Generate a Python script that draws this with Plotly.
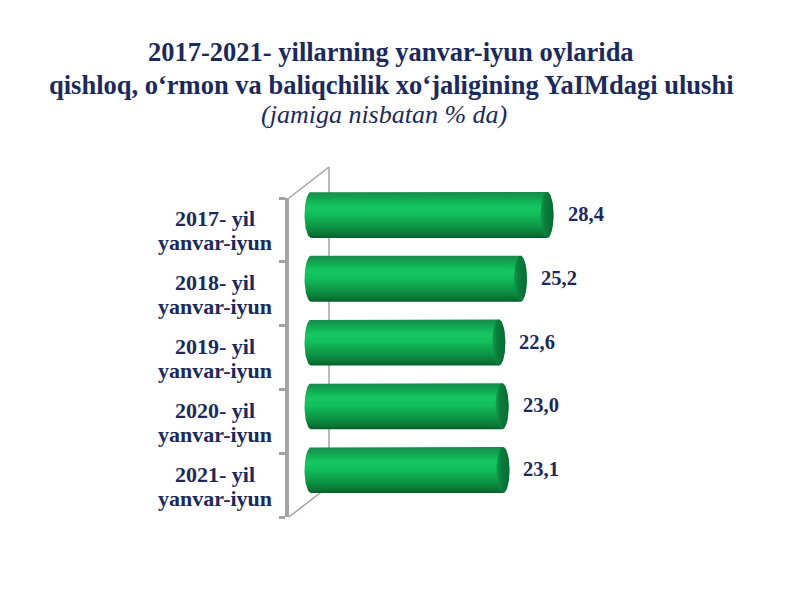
import numpy as np
import plotly.graph_objects as go

# ---- data -------------------------------------------------------------
years = ["2017- yil", "2018- yil", "2019- yil", "2020- yil", "2021- yil"]
period = "yanvar-iyun"
values = [28.4, 25.2, 22.6, 23.0, 23.1]
value_labels = ["28,4", "25,2", "22,6", "23,0", "23,1"]

title_lines = [
    "2017-2021- yillarning yanvar-iyun oylarida",
    "qishloq, o‘rmon va baliqchilik xo‘jaligining YaIMdagi ulushi",
]
subtitle = "(jamiga nisbatan % da)"

# ---- layout geometry (pixels) -----------------------------------------
W, H = 800, 600
PX_PER_UNIT = 8.31          # horizontal scale of the value axis
X_MAX = 34
X_PAD = 2                   # room left of zero for the rounded base
FRONT_LEFT, FRONT_TOP, FRONT_BOTTOM = 289, 198, 517
BAR_DX, BAR_DY = 22, 15     # bars sit half way into the 3-D depth
WALL_DX, WALL_DY = 40, 31   # back wall offset
CAP_RX_PX = 6.5             # half width of the cylinder end ellipse
BAR_H_PX = 46

NAVY = "#1b2a5c"
AXIS_GREY = "#a3a3a3"
FONT = "Liberation Serif"

n = len(years)
band_px = (FRONT_BOTTOM - FRONT_TOP) / n
rx = CAP_RX_PX / PX_PER_UNIT
ry = (BAR_H_PX / 2) / band_px
centers = [n - 0.5 - i for i in range(n)]


def fx(p):
    return p / W


def fy(p):
    return 1 - p / H


body_scale = [
    [0.00, "#075c2b"],
    [0.08, "#0a7636"],
    [0.28, "#0d9a48"],
    [0.52, "#12bf5c"],
    [0.68, "#14c761"],
    [0.85, "#10a852"],
    [1.00, "#178a4b"],
]
cap_scale = [
    [0.00, "#149a4c"],
    [0.35, "#0b7e3c"],
    [1.00, "#086a33"],
]

fig = go.Figure()

t_right = np.linspace(-np.pi / 2, np.pi / 2, 48)
t_left = np.linspace(np.pi / 2, 3 * np.pi / 2, 48)
t_full = np.linspace(0, 2 * np.pi, 96)

for v, c in zip(values, centers):
    # cylinder body: rounded far end + straight sides + rounded base
    bx = np.concatenate([v + rx * np.cos(t_right), rx * np.cos(t_left)])
    by = np.concatenate([c + ry * np.sin(t_right), c + ry * np.sin(t_left)])
    fig.add_trace(go.Scatter(
        x=bx, y=by, xaxis="x2", yaxis="y2", mode="lines",
        line=dict(width=0), fill="toself",
        fillgradient=dict(type="vertical", colorscale=body_scale),
        hoverinfo="skip", showlegend=False,
    ))
    # end cap of the cylinder
    fig.add_trace(go.Scatter(
        x=v + rx * np.cos(t_full), y=c + ry * np.sin(t_full),
        xaxis="x2", yaxis="y2", mode="lines",
        line=dict(width=0), fill="toself",
        fillgradient=dict(type="horizontal", colorscale=cap_scale),
        hoverinfo="skip", showlegend=False,
    ))

# invisible trace so the front axes get drawn
fig.add_trace(go.Scatter(x=[0], y=[0], mode="markers", marker=dict(opacity=0),
                         hoverinfo="skip", showlegend=False))

annotations = []
for v, c, lab in zip(values, centers, value_labels):
    annotations.append(dict(
        x=v, y=c, xref="x2", yref="y2", text=lab, showarrow=False,
        xanchor="left", yanchor="middle", xshift=CAP_RX_PX + 12, yshift=1,
        font=dict(family=FONT, size=20.5, color=NAVY, weight="bold"),
    ))
for yr, c in zip(years, centers):
    for txt, shift in ((yr, 11), (period, -13)):
        annotations.append(dict(
            x=fx(215), y=c, xref="paper", yref="y", text=txt, showarrow=False,
            xanchor="center", yanchor="middle", yshift=shift,
            font=dict(family=FONT, size=22, color=NAVY, weight="bold"),
        ))
for txt, ypix in zip(title_lines, (52, 85)):
    annotations.append(dict(
        x=fx(391), y=fy(ypix), xref="paper", yref="paper", text=txt,
        showarrow=False, xanchor="center", yanchor="middle",
        font=dict(family=FONT, size=26.5, color=NAVY, weight="bold"),
    ))
annotations.append(dict(
    x=fx(384), y=fy(115), xref="paper", yref="paper", text=subtitle,
    showarrow=False, xanchor="center", yanchor="middle",
    font=dict(family="Liberation Serif, 'DejaVu Serif', serif", size=26,
              color=NAVY, style="italic"),
))

# back wall of the 3-D frame
wall_x = FRONT_LEFT + WALL_DX
shapes = [
    dict(type="line", xref="paper", yref="paper", layer="below",
         x0=fx(wall_x), x1=fx(wall_x),
         y0=fy(FRONT_TOP - WALL_DY), y1=fy(FRONT_BOTTOM - WALL_DY),
         line=dict(color=AXIS_GREY, width=1.5)),
    dict(type="line", xref="paper", yref="paper", layer="below",
         x0=fx(FRONT_LEFT), x1=fx(wall_x),
         y0=fy(FRONT_TOP), y1=fy(FRONT_TOP - WALL_DY),
         line=dict(color=AXIS_GREY, width=1.5)),
    dict(type="line", xref="paper", yref="paper", layer="below",
         x0=fx(FRONT_LEFT), x1=fx(wall_x),
         y0=fy(FRONT_BOTTOM), y1=fy(FRONT_BOTTOM - WALL_DY),
         line=dict(color=AXIS_GREY, width=1.5)),
]

front_right = FRONT_LEFT + X_MAX * PX_PER_UNIT
bar_zero = FRONT_LEFT + BAR_DX
fig.update_layout(
    width=W, height=H,
    margin=dict(l=0, r=0, t=0, b=0),
    paper_bgcolor="white", plot_bgcolor="rgba(0,0,0,0)",
    xaxis=dict(domain=[fx(FRONT_LEFT), fx(front_right)], range=[0, X_MAX],
               visible=False, anchor="y"),
    yaxis=dict(domain=[fy(FRONT_BOTTOM), fy(FRONT_TOP)], range=[0, n],
               anchor="x", showline=True, linecolor=AXIS_GREY, linewidth=4,
               ticks="outside", tickvals=list(range(n + 1)), ticklen=6,
               tickwidth=3, tickcolor=AXIS_GREY, showticklabels=False,
               showgrid=False, zeroline=False),
    xaxis2=dict(domain=[fx(bar_zero - X_PAD * PX_PER_UNIT),
                        fx(bar_zero + X_MAX * PX_PER_UNIT)],
                range=[-X_PAD, X_MAX], visible=False, anchor="y2"),
    yaxis2=dict(domain=[fy(FRONT_BOTTOM - BAR_DY), fy(FRONT_TOP - BAR_DY)],
                range=[0, n], visible=False, anchor="x2"),
    annotations=annotations,
    shapes=shapes,
)

fig.write_html("out.html")
